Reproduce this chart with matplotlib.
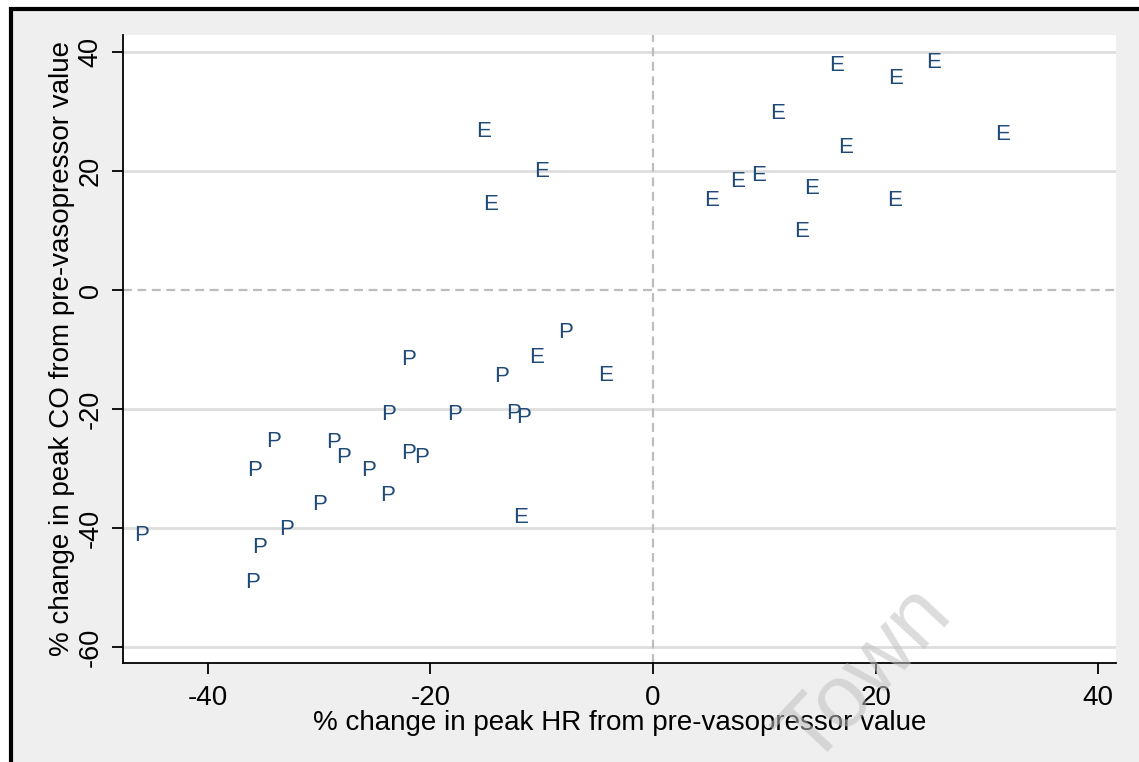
import matplotlib
matplotlib.use("Agg")
import matplotlib.pyplot as plt
from matplotlib.patches import Rectangle

plt.rcParams['font.family'] = ['Liberation Sans', 'DejaVu Sans']

# Data: % change in peak HR (x) and peak CO (y); group letter
e_hr = [-16.2, -11.0, -15.6, 15.5, 20.8, 24.2, 10.2, 16.3, 30.4, 13.3, 8.5, 6.6, 4.3, 20.7, 12.4, -11.4, -5.2, -12.9]
e_co = [26.6, 20.0, 14.3, 37.7, 35.5, 38.3, 29.6, 23.9, 26.2, 17.1, 19.2, 18.3, 15.1, 15.1, 9.8, -11.3, -14.3, -38.3]
p_hr = [-8.8, -22.9, -14.6, -24.7, -18.8, -13.5, -12.6, -35.1, -29.7, -28.8, -22.9, -21.8, -36.8, -26.5, -24.8, -30.9, -33.9, -46.9, -36.3, -37.0]
p_co = [-7.1, -11.6, -14.6, -21.0, -21.0, -20.7, -21.5, -25.4, -25.7, -28.1, -27.4, -28.2, -30.4, -30.3, -34.6, -36.0, -40.2, -41.3, -43.2, -49.2]

xticks = [-40, -20, 0, 20, 40]
yticks = [-60, -40, -20, 0, 20, 40]
xlabel = "% change in peak HR from pre-vasopressor value"
ylabel = "% change in peak CO from pre-vasopressor value"

W, H = 1139, 762
fig = plt.figure(figsize=(W / 100, H / 100), dpi=100)
fig.patch.set_facecolor('white')

# graph region background with black frame (cropped on right/bottom)
bg = Rectangle((10.5 / W, -0.05), 1.2, 1 - 8.5 / H + 0.05, transform=fig.transFigure,
               facecolor='#efefef', edgecolor='black', linewidth=3, zorder=-5)
fig.patches.append(bg)

ax = fig.add_axes([123 / W, 1 - 663 / H, (1116 - 123) / W, (663 - 35) / H])
ax.set_zorder(1)
ax.set_facecolor('white')
ax.set_xlim(-47.62, 41.6)
ax.set_ylim(-62.69, 42.86)

for s in ['top', 'right']:
    ax.spines[s].set_visible(False)
for s in ['left', 'bottom']:
    ax.spines[s].set_linewidth(1.3)
    ax.spines[s].set_color('black')

ax.set_xticks(xticks)
ax.set_yticks(yticks)
ax.set_xticklabels([str(v) for v in xticks], fontsize=20)
ax.set_yticklabels([str(v) for v in yticks], fontsize=19.5, rotation=90, va='center')
ax.tick_params(axis='both', direction='out', length=8, width=1.3, color='black')
ax.tick_params(axis='x', pad=8)
ax.tick_params(axis='y', pad=6)

# horizontal grid lines (not at 0)
for v in yticks:
    if v != 0:
        ax.axhline(v, color='#dedede', linewidth=2, zorder=1)

ax.axhline(0, color='#bdbdbd', linewidth=1.6, linestyle=(0, (4, 2.5)), zorder=1.5)
ax.axvline(0, color='#bdbdbd', linewidth=1.6, linestyle=(0, (4, 2.5)), zorder=1.5)

col = '#1f4a78'
for x, y in zip(e_hr, e_co):
    ax.annotate('E', (x, y), xytext=(2.5, 0), textcoords='offset points',
                ha='left', va='center', fontsize=16, color=col, zorder=3)
for x, y in zip(p_hr, p_co):
    ax.annotate('P', (x, y), xytext=(2.5, 0), textcoords='offset points',
                ha='left', va='center', fontsize=16, color=col, zorder=3)

ax.set_xlabel(xlabel, fontsize=20, labelpad=-1)
ax.set_ylabel(ylabel, fontsize=20, labelpad=2)

# watermark
fig.text(866 / W, 1 - 676 / H, 'Town', fontsize=64, rotation=47, color='#c0c0c0',
         alpha=0.55, ha='center', va='center', zorder=10)

fig.savefig('out.png', dpi=100, facecolor=fig.get_facecolor())
